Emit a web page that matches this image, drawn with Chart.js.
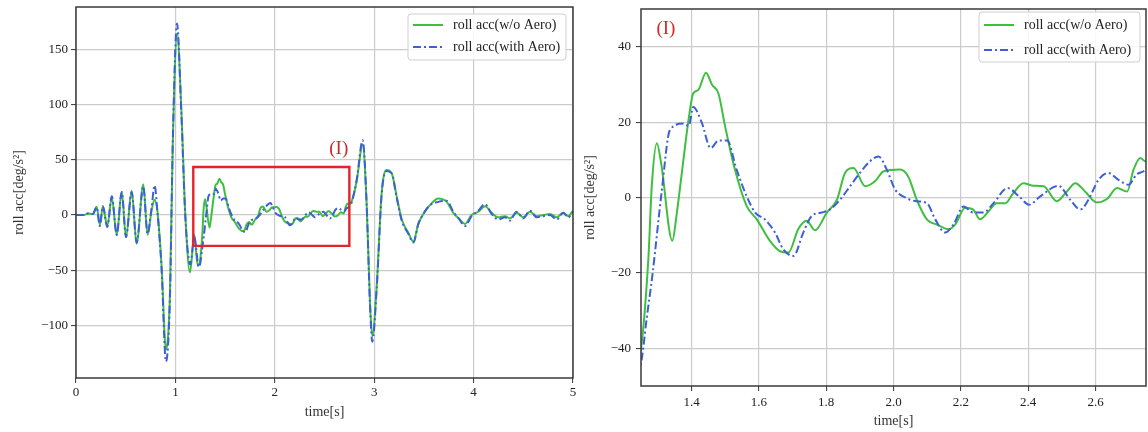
<!DOCTYPE html>
<html>
<head>
<meta charset="utf-8">
<script src="https://cdn.jsdelivr.net/npm/chart.js@4.4.1/dist/chart.umd.min.js"></script>
<style>
  body { margin: 0; background: #fff; }
  .wrap { position: absolute; top: 0; height: 432px; }
  #left { left: 0; width: 580px; }
  #right { left: 580px; width: 568px; }
</style>
</head>
<body>
<div class="wrap" id="left"><canvas id="fullChart"></canvas></div>
<div class="wrap" id="right"><canvas id="zoomChart"></canvas></div>
<script>
// roll acc without aero (green, solid)
const timeGreen = [
  0, 0.08, 0.12, 0.17, 0.208, 0.24, 0.27, 0.315, 0.36, 0.41, 0.46, 0.503, 0.56, 0.61, 0.677, 0.72, 0.76, 0.79, 0.82, 0.86,
  0.905, 0.945, 0.975, 1.018, 1.06, 1.1, 1.147, 1.19, 1.225,
  1.25, 1.272, 1.282, 1.297, 1.31, 1.343, 1.356, 1.376, 1.391, 1.405, 1.42, 1.443, 1.461, 1.48, 1.5, 1.529, 1.564, 1.594,
  1.633, 1.662, 1.688, 1.717, 1.742, 1.767, 1.802, 1.832, 1.856, 1.881, 1.916, 1.945, 1.97, 2.02, 2.044, 2.069, 2.099,
  2.129, 2.163, 2.183, 2.213, 2.237, 2.257, 2.282, 2.307, 2.332, 2.356, 2.386, 2.416, 2.446, 2.485, 2.515, 2.54, 2.569,
  2.604, 2.634, 2.664, 2.694, 2.713, 2.733, 2.748,
  2.775, 2.824, 2.884, 2.924, 2.958, 2.981, 3.025, 3.075, 3.125, 3.176, 3.226, 3.277, 3.343, 3.394, 3.444, 3.494, 3.561,
  3.645, 3.729, 3.796, 3.85, 3.913, 3.98, 4.047, 4.115, 4.182, 4.249, 4.316, 4.366, 4.433, 4.5, 4.567, 4.635, 4.701,
  4.768, 4.836, 4.902, 4.953, 5.0
];
const rollGreen = [
  0, 0, 1.5, 1, 7.5, -9, 8, -10, 16, -18, 21, -20, 22, -26, 28, -18, 4, 14, 3, -45,
  -122, -72, 70, 165, 95, 0, -52, -18, -46,
  -40, -16, 3, 14.4, 9, -11.5, -4.4, 10, 20.5, 27.6, 28.5, 33.1, 29.9, 27.6, 18.8, 7.4, -2.3, -5.8,
  -11.5, -14.2, -14.6, -8.4, -6.2, -8.7, -4.0, -0.6, 6.5, 7.8, 3.0, 4.3, 6.9, 7.4, 5.5, -0.6, -5.8,
  -7.2, -8.4, -7.2, -2.7, -3.2, -5.8, -3.7, -1.5, -1.5, 1.2, 3.8, 3.1, 3.0, -1.0, 1.6, 3.8, 1.6,
  -1.3, -0.4, 2.5, 1.6, 7.4, 10.5, 9.6,
  13, 31, 64, 10, -80, -110, -65, 20, 41, 38, 17, -4, -16, -24, -8, 1, 9,
  15, 12, 2, -3, -8, 0, 3, 8, 2, -2, -1, -3, 2, -2, 3, -1, 0,
  1, -2, 2, -1, 4
];

// roll acc with aero (blue, dash-dot)
const timeBlue = [
  0, 0.08, 0.12, 0.17, 0.208, 0.24, 0.27, 0.315, 0.36, 0.41, 0.46, 0.503, 0.56, 0.61, 0.677, 0.72, 0.76, 0.79, 0.82, 0.86,
  0.905, 0.945, 0.975, 1.016, 1.06, 1.1, 1.15, 1.19, 1.235,
  1.25, 1.267, 1.284, 1.311, 1.336, 1.376, 1.392, 1.405, 1.43, 1.457, 1.48, 1.506, 1.534, 1.564, 1.589,
  1.618, 1.648, 1.673, 1.703, 1.732, 1.757, 1.787, 1.811, 1.841, 1.871, 1.9, 1.93, 1.955, 1.98, 2.005,
  2.04, 2.069, 2.099, 2.124, 2.153, 2.178, 2.208, 2.237, 2.267, 2.297, 2.339, 2.373, 2.403, 2.436, 2.49,
  2.525, 2.555, 2.579, 2.609, 2.638, 2.668, 2.698, 2.722, 2.748,
  2.775, 2.824, 2.884, 2.924, 2.958, 2.981, 3.025, 3.075, 3.125, 3.176, 3.226, 3.277, 3.343, 3.394, 3.444, 3.494, 3.561,
  3.645, 3.729, 3.796, 3.85, 3.913, 3.98, 4.047, 4.115, 4.182, 4.249, 4.316, 4.366, 4.433, 4.5, 4.567, 4.635, 4.701,
  4.768, 4.836, 4.902, 4.953, 5.0
];
const rollBlue = [
  0, 0, 1.5, 1, 7, -10, 8, -11, 17, -18, 21, -20, 21, -25, 26, -17, 6, 27, 2, -47,
  -133, -75, 72, 174, 92, -2, -45, -20, -47,
  -44, -32, -20.5, 1.2, 17.9, 19.6, 19, 24, 20, 13.1, 15.1, 15.1, 7.4, 0.3, -4.0,
  -5.8, -9.3, -13.8, -15.5, -9.3, -4.9, -4.0, -3.2, -0.6, 3.0, 6.5, 9.6, 10.9, 7.4, 2.1,
  -0.2, -1.0, -1.5, -5.8, -9.3, -7.2, -2.4, -4.0, -4.0, -1.5, 2.5, 0.3, -1.9, 0.3, 3.1,
  -0.6, -3.2, -0.6, 4.7, 6.5, 4.7, 3.4, 6.1, 7.4,
  12, 32, 68, 10, -82, -115, -67, 19, 40, 38, 16, -5, -17, -25, -8, 1, 9,
  12, 13, 3, -3, -10, -1, 4, 10, 1, -4, -2, -5, 3, -3, 4, -2, -1,
  0, -4, 2, -2, 3
];

// zoom window (I) marked on the full chart
const boxTime = [1.18, 1.18, 2.75, 2.75, 1.18];
const boxRoll = [-28, 43.6, 43.6, -28, -28];

const fullTimeTicks = [0, 1, 2, 3, 4, 5];
const fullRollTicks = [-100, -50, 0, 50, 100, 150];
const zoomTimeTicks = [1.4, 1.6, 1.8, 2.0, 2.2, 2.4, 2.6];
const zoomRollTicks = [-40, -20, 0, 20, 40];

const seriesLabels = ['roll acc(w/o Aero)', 'roll acc(with Aero)'];

const serif = "'Liberation Serif', 'DejaVu Serif', serif";
const GREEN = '#3fbf3f';
const BLUE = '#3d5fd6';

function points(ts, vs) {
  return ts.map((t, i) => ({ x: t, y: vs[i] }));
}

function minusFmt(v, digits) {
  const s = digits ? Math.abs(v).toFixed(digits) : String(Math.abs(v));
  return v < 0 ? '\u2212' + s : s;
}

// frame, legend and (I) mark, drawn after the datasets
const framePlugin = {
  id: 'frame',
  afterDraw(chart, args, opts) {
    const { ctx, chartArea: a, scales } = chart;
    ctx.save();
    ctx.strokeStyle = '#3a3a3a';
    ctx.lineWidth = 1.5;
    ctx.strokeRect(a.left, a.top, a.right - a.left, a.bottom - a.top);

    if (opts.mark) {
      ctx.fillStyle = '#d8252b';
      ctx.font = opts.mark.size + 'px ' + serif;
      ctx.textAlign = 'center';
      ctx.textBaseline = 'middle';
      ctx.fillText('(I)', scales.x.getPixelForValue(opts.mark.x), scales.y.getPixelForValue(opts.mark.y));
    }

    const lg = opts.legend;
    const bx = a.right - lg.inset - lg.width;
    const by = a.top + lg.top;
    ctx.beginPath();
    ctx.roundRect(bx, by, lg.width, lg.height, 3);
    ctx.fillStyle = 'rgba(255,255,255,0.85)';
    ctx.fill();
    ctx.strokeStyle = '#cfcfcf';
    ctx.lineWidth = 1;
    ctx.stroke();

    const items = chart.data.datasets.filter(d => d.label);
    items.forEach((d, i) => {
      const y = by + lg.rows[i];
      ctx.beginPath();
      ctx.setLineDash(d.borderDash || []);
      ctx.strokeStyle = d.borderColor;
      ctx.lineWidth = d.borderWidth;
      ctx.moveTo(bx + 5, y);
      ctx.lineTo(bx + 35, y);
      ctx.stroke();
      ctx.setLineDash([]);
      ctx.fillStyle = '#222';
      ctx.font = '14px ' + serif;
      ctx.textAlign = 'left';
      ctx.textBaseline = 'middle';
      ctx.fillText(d.label, bx + 45, y);
    });
    ctx.restore();
  }
};

function makeChart(id, p) {
  const datasets = [
    {
      label: seriesLabels[0], data: points(timeGreen, rollGreen),
      borderColor: GREEN, borderWidth: 2, order: 2
    },
    {
      label: seriesLabels[1], data: points(timeBlue, rollBlue),
      borderColor: BLUE, borderWidth: 2, borderDash: [8, 3, 2, 3], order: 1
    }
  ];
  if (p.box) {
    datasets.push({
      label: '', data: points(boxTime, boxRoll),
      borderColor: '#e4232a', borderWidth: 2.4, tension: 0,
      cubicInterpolationMode: 'default', order: 0
    });
  }

  new Chart(document.getElementById(id), {
    type: 'line',
    data: { datasets: datasets },
    options: {
      responsive: true,
      maintainAspectRatio: false,
      animation: false,
      layout: { padding: p.padding },
      elements: {
        point: { radius: 0 },
        line: { cubicInterpolationMode: 'monotone', fill: false }
      },
      plugins: {
        legend: { display: false },
        tooltip: { enabled: false },
        frame: { mark: p.mark, legend: p.legend }
      },
      scales: {
        x: {
          type: 'linear', min: p.xMin, max: p.xMax,
          afterBuildTicks: s => { s.ticks = p.xTicks.map(v => ({ value: v })); },
          afterFit: s => { s.height = p.xHeight; s.paddingLeft = 0; s.paddingRight = 0; },
          grid: { color: '#cbcbcb', lineWidth: 1.2, tickColor: '#333', tickLength: 5, tickWidth: 1 },
          border: { display: false },
          ticks: {
            font: { family: serif, size: 13 }, color: '#222', padding: p.xPad,
            maxRotation: 0, autoSkip: false, callback: v => minusFmt(v, p.xDigits)
          },
          title: {
            display: true, text: 'time[s]', color: '#333',
            font: { family: serif, size: 14 }, padding: { top: 0, bottom: p.xTitlePad }
          }
        },
        y: {
          type: 'linear', min: p.yMin, max: p.yMax,
          afterBuildTicks: s => { s.ticks = p.yTicks.map(v => ({ value: v })); },
          afterFit: s => { s.width = p.yWidth; s.paddingTop = 0; s.paddingBottom = 0; },
          grid: { color: '#cbcbcb', lineWidth: 1.2, tickColor: '#333', tickLength: 5, tickWidth: 1 },
          border: { display: false },
          ticks: {
            font: { family: serif, size: 13 }, color: '#222', padding: p.yPad,
            autoSkip: false, callback: v => minusFmt(v, 0)
          },
          title: {
            display: true, text: 'roll acc[deg/s\u00b2]', color: '#333',
            font: { family: serif, size: 14 }, padding: { top: p.yTitlePad, bottom: 0 }
          }
        }
      }
    },
    plugins: [framePlugin]
  });
}

makeChart('fullChart', {
  padding: { top: 7, right: 7, left: 0, bottom: 0 },
  xMin: 0, xMax: 5, xTicks: fullTimeTicks, xDigits: 0,
  yMin: -148, yMax: 189, yTicks: fullRollTicks,
  xHeight: 54, yWidth: 76, xPad: 2, yPad: 3, xTitlePad: 11, yTitlePad: 11,
  box: true,
  mark: { x: 2.643, y: 60, size: 19 },
  legend: { inset: 7, top: 7, width: 158, height: 46, rows: [11, 33] }
});

makeChart('zoomChart', {
  padding: { top: 9, right: 2, left: 0, bottom: 0 },
  xMin: 1.25, xMax: 2.75, xTicks: zoomTimeTicks, xDigits: 1,
  yMin: -50, yMax: 50, yTicks: zoomRollTicks,
  xHeight: 46, yWidth: 61, xPad: 4, yPad: 5, xTitlePad: 2, yTitlePad: 2,
  box: false,
  mark: { x: 1.324, y: 44.6, size: 19 },
  legend: { inset: 6, top: 3, width: 161, height: 50, rows: [13, 38] }
});
</script>
</body>
</html>
